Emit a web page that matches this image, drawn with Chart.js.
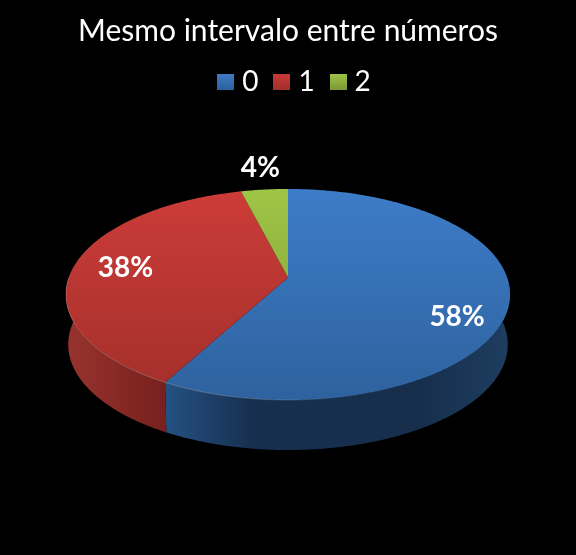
<!DOCTYPE html>
<html>
<head>
<meta charset="utf-8">
<script src="https://cdn.jsdelivr.net/npm/chart.js@4"></script>
<style>
  html, body { margin: 0; padding: 0; background: #000; }
  canvas { display: block; }
</style>
</head>
<body>
<canvas id="pieChart" width="576" height="555"></canvas>
<script>
const categories = ['0', '1', '2'];
const values = [58, 38, 4];
const chartTitle = 'Mesmo intervalo entre números';

// face colours: light end, dark end
const faceTop = ['#3d7cc8', '#cc3c38', '#9fc546'];
const faceBottom = ['#2e629e', '#a32f2b', '#7c9a36'];
// wall colours, left to right across the disc
const wallStops = [
    [[0, '#2a5c96'], [0.23, '#245082'], [0.42, '#172f4e'], [0.8, '#172f4d'], [1, '#1e3d60']],
    [[0, '#98332e'], [0.23, '#76201d'], [1, '#76201d']],
    [[0, '#6d8530'], [1, '#4c5e22']]
];

// perspective projection of the unit disc on to the page
const VIEW = { cx: 288, cy: 277.5, a: 219.1, b: 102.8, p: -0.161, depth: 50, shrink: 0.99 };

function project(u, v, lower) {
    const w = 1 + VIEW.p * v;
    return {
        x: VIEW.cx + (lower ? VIEW.shrink : 1) * VIEW.a * u / w,
        y: VIEW.cy + (lower ? VIEW.depth : 0) + VIEW.b * v / w
    };
}

function arcPoints(start, end, lower) {
    const pts = [];
    const steps = Math.max(2, Math.ceil((end - start) / 0.01));
    for (let i = 0; i <= steps; i++) {
        const t = start + (end - start) * i / steps;
        pts.push(project(Math.cos(t), Math.sin(t), lower));
    }
    return pts;
}

// legend swatch with the same soft top light as the chart
function swatch(i) {
    const c = document.createElement('canvas');
    c.width = 17; c.height = 16;
    const g = c.getContext('2d');
    const grad = g.createLinearGradient(0, 0, 0, 16);
    grad.addColorStop(0, faceTop[i]);
    grad.addColorStop(1, faceBottom[i]);
    g.fillStyle = grad;
    g.fillRect(0, 0, 17, 16);
    return c;
}

const perspectivePie = {
    id: 'perspectivePie',
    afterLayout(chart) {
        // chart.js centres the legend row with its trailing padding counted
        chart.legend.left += 18;
        chart.legend.top -= 2.5;
    },
    beforeDatasetDraw(chart, args) {
        const ctx = chart.ctx;
        const arcs = chart.getDatasetMeta(args.index).data;
        ctx.save();

        // walls, only the part of each slice facing the viewer
        arcs.forEach((arc, i) => {
            const s = Math.max(arc.startAngle, -0.5);
            const e = Math.min(arc.endAngle, Math.PI + 0.5);
            if (e <= s) return;
            const grad = ctx.createLinearGradient(66, 0, 510, 0);
            wallStops[i].forEach(st => grad.addColorStop(st[0], st[1]));
            ctx.fillStyle = grad;
            ctx.beginPath();
            const outline = arcPoints(s, e, false).concat(arcPoints(s, e, true).reverse());
            outline.forEach((p, n) => n ? ctx.lineTo(p.x, p.y) : ctx.moveTo(p.x, p.y));
            ctx.closePath();
            ctx.fill();
        });

        // top faces
        arcs.forEach((arc, i) => {
            const grad = ctx.createLinearGradient(0, 189, 0, 400);
            grad.addColorStop(0, faceTop[i]);
            grad.addColorStop(1, faceBottom[i]);
            ctx.fillStyle = grad;
            ctx.beginPath();
            const c = project(0, 0, false);
            ctx.moveTo(c.x, c.y);
            arcPoints(arc.startAngle, arc.endAngle, false).forEach(p => ctx.lineTo(p.x, p.y));
            ctx.closePath();
            ctx.fill();
        });

        // thin light on the front rim, fading to the right
        const rim = ctx.createLinearGradient(66, 0, 400, 0);
        rim.addColorStop(0, 'rgba(255,255,255,0.22)');
        rim.addColorStop(0.4, 'rgba(255,255,255,0.25)');
        rim.addColorStop(1, 'rgba(255,255,255,0)');
        ctx.strokeStyle = rim;
        ctx.lineWidth = 1;
        ctx.beginPath();
        arcPoints(0.5, Math.PI, false).forEach((p, n) => n ? ctx.lineTo(p.x, p.y) : ctx.moveTo(p.x, p.y));
        ctx.stroke();

        ctx.restore();
        return false; // the default flat arcs are replaced by the above
    },
    afterDatasetsDraw(chart) {
        const ctx = chart.ctx;
        const arcs = chart.getDatasetMeta(0).data;
        const total = values.reduce((a, b) => a + b, 0);
        const place = [[0.75, 5, 20], [0.75, -2, 0], [1.2, 0, -7]];
        ctx.save();
        ctx.fillStyle = '#fff';
        ctx.font = 'bold 28px Lato, sans-serif';
        ctx.textAlign = 'center';
        ctx.textBaseline = 'middle';
        arcs.forEach((arc, i) => {
            const mid = (arc.startAngle + arc.endAngle) / 2;
            const p = project(place[i][0] * Math.cos(mid), place[i][0] * Math.sin(mid), false);
            ctx.fillText(Math.round(values[i] / total * 100) + '%', p.x + place[i][1], p.y + place[i][2]);
        });
        ctx.restore();
    }
};

new Chart(document.getElementById('pieChart').getContext('2d'), {
    type: 'pie',
    data: {
        labels: categories,
        datasets: [{ data: values, backgroundColor: faceTop, borderWidth: 0 }]
    },
    options: {
        responsive: false,
        animation: false,
        layout: { padding: { left: 66, right: 66, bottom: 60 } },
        plugins: {
            tooltip: { enabled: false },
            title: {
                display: true,
                text: chartTitle,
                color: '#fff',
                font: { family: 'Lato, sans-serif', size: 30, weight: 'normal' },
                padding: { top: 13, bottom: 0 }
            },
            legend: {
                display: true,
                position: 'top',
                labels: {
                    color: '#fff',
                    font: { family: 'Lato, sans-serif', size: 28 },
                    usePointStyle: true,
                    pointStyleWidth: 5,
                    padding: 21,
                    generateLabels: () => categories.map((c, i) => ({
                        text: c,
                        fontColor: '#fff',
                        fillStyle: faceTop[i],
                        lineWidth: 0,
                        pointStyle: swatch(i),
                        index: i
                    }))
                }
            }
        }
    },
    plugins: [perspectivePie]
});
</script>
</body>
</html>
